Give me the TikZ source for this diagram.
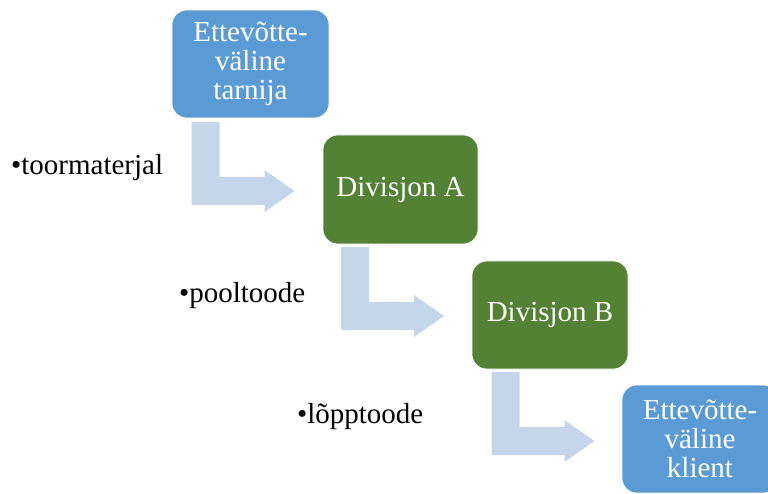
\documentclass[tikz,border=0pt]{standalone}
\usepackage{fontspec}
\setmainfont{Liberation Serif}
\definecolor{boxblue}{HTML}{5B9BD5}
\definecolor{boxgreen}{HTML}{548235}
\definecolor{arrowblue}{HTML}{C5D5EA}
\tikzset{
  stage/.style={draw=white, line width=0.6pt, rounded corners=15pt, text=white, align=center, inner sep=0pt,
    font=\fontsize{29}{30}\selectfont},
  bluestage/.style={stage, fill=boxblue},
  greenstage/.style={stage, fill=boxgreen},
  flowlabel/.style={anchor=base west, inner sep=0pt, font=\fontsize{29}{30}\selectfont},
  bentarrow/.style={fill=arrowblue, draw=none}
}
\begin{document}
\begin{tikzpicture}[x=1pt,y=-1pt]
\useasboundingbox (0,0) rectangle (768,494);
\clip (0,0) rectangle (768,494);
% boxes
\node[bluestage, minimum width=157pt, minimum height=108pt] (sup) at (250.5,64) {Ettevõtte-\\[-1pt]väline\\[-1pt]tarnija};
\node[greenstage, minimum width=155pt, minimum height=109pt] (diva) at (400.5,189.5) {Divisjon A};
\node[greenstage, minimum width=156pt, minimum height=108pt] (divb) at (550,315) {Divisjon B};
\node[bluestage, minimum width=156pt, minimum height=108pt] (cli) at (700,439) {Ettevõtte-\\[-1pt]väline\\[-1pt]klient};
% bent arrows
\coordinate (a1) at (191.5,122);
\coordinate (a2) at (341,247);
\coordinate (a3) at (491.5,372);
\foreach \c in {a1,a2,a3}{
  \fill[bentarrow] (\c) -- ++(28,0) -- ++(0,55) -- ++(45,0) -- ++(0,-7) -- ++(30,21) -- ++(-30,21) -- ++(0,-7) -- ++(-73,0) -- cycle;
}
% labels
\node[flowlabel] (l1) at (11,175) {•toormaterjal};
\node[flowlabel] (l2) at (179,302) {•pooltoode};
\node[flowlabel] (l3) at (297,423) {•lõpptoode};
\end{tikzpicture}
\end{document}
